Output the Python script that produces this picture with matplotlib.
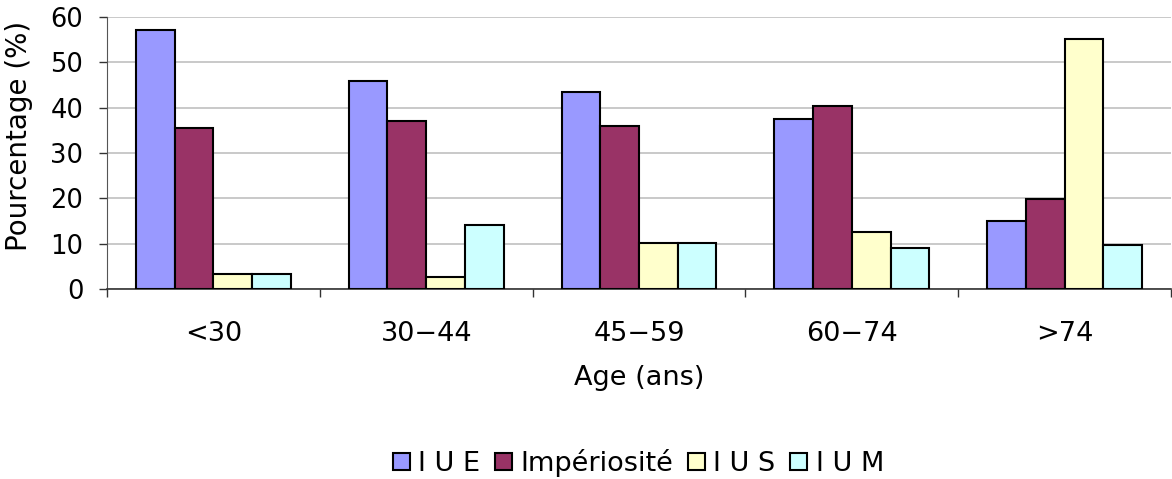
import numpy as np
import matplotlib.pyplot as plt
from matplotlib.ticker import FixedLocator

# Incontinence type by age group (%)
age_groups = ["<30", "30\u221244", "45\u221259", "60\u221274", ">74"]
iue = [57.1, 45.9, 43.4, 37.5, 15.0]
imperiosite = [35.6, 37.0, 36.0, 40.3, 19.9]
ius = [3.3, 2.8, 10.1, 12.6, 55.0]
ium = [3.3, 14.1, 10.1, 9.1, 9.7]

series_names = ["I U E", "Impériosité", "I U S", "I U M"]
colors = ["#9999FF", "#993366", "#FFFFCC", "#CCFFFF"]

plt.rcParams['font.family'] = ['DejaVu Sans']

fig = plt.figure(figsize=(11.72, 4.79), dpi=100)
ax = fig.add_axes([107 / 1172, 1 - 289.3 / 479, 1064 / 1172, 272.6 / 479])

x = np.arange(len(age_groups))
width = 0.182
offsets = (np.arange(4) - 1.5) * width
for vals, name, col, off in zip([iue, imperiosite, ius, ium], series_names, colors, offsets):
    ax.bar(x + off, vals, width, color=col, edgecolor="black", linewidth=1.5,
           label=name, zorder=3)

ax.set_xlim(-0.5, len(age_groups) - 0.5)
ax.set_ylim(0, 60)
ax.set_yticks(range(0, 61, 10))
ax.yaxis.grid(True, color="#c0c0c0", linewidth=1.2, zorder=0)

ax.set_xticks(x)
ax.set_xticklabels(age_groups)
ax.xaxis.set_minor_locator(FixedLocator(np.arange(-0.5, len(age_groups), 1)))
ax.tick_params(axis="x", which="major", length=0, pad=23, labelsize=19.5)
ax.tick_params(axis="x", which="minor", length=6, width=1, color="#333333")
ax.tick_params(axis="y", length=6, width=1, color="#333333", labelsize=18.5, pad=11)

for s in ["top", "right"]:
    ax.spines[s].set_visible(False)
ax.spines["left"].set_color("#555555")
ax.spines["bottom"].set_color("#333333")
ax.spines["bottom"].set_linewidth(1.2)

ax.set_ylabel("Pourcentage (%)", fontsize=20)
ax.yaxis.set_label_coords(-0.0695, 0.562)
ax.set_xlabel("Age (ans)", fontsize=19.5, labelpad=13)

fig.legend(loc="center", bbox_to_anchor=(638.5 / 1172, 1 - 463 / 479), ncol=4,
           frameon=False, fontsize=19.5, handlelength=0.63, handleheight=0.63,
           handletextpad=0.3, columnspacing=0.55, borderpad=0)

fig.savefig("out.png", dpi=100)
